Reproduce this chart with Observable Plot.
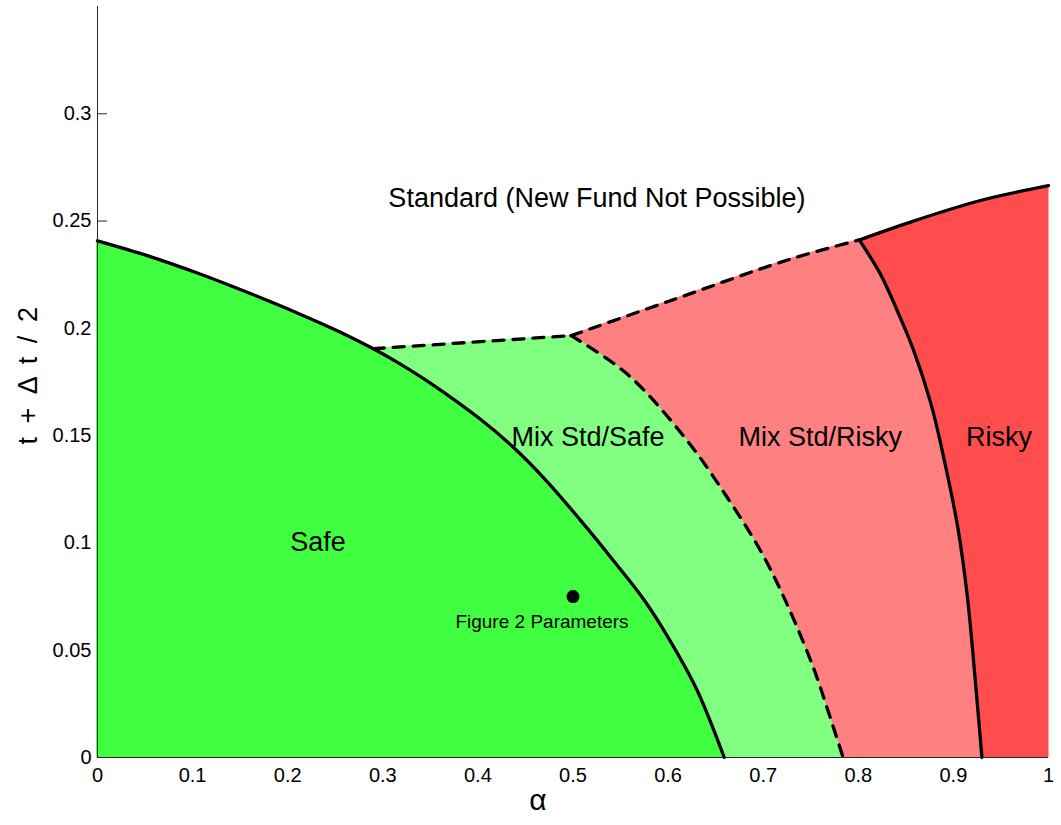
<!DOCTYPE html>
<html><head><meta charset="utf-8">
<script src="https://cdn.jsdelivr.net/npm/d3@7"></script>
<script src="https://cdn.jsdelivr.net/npm/@observablehq/plot@0.6"></script>
<style>body{margin:0;background:#fff}</style>
</head><body><div id="chart"></div>
<script>
// ---- tick values ----
const xTicks = [0, 0.1, 0.2, 0.3, 0.4, 0.5, 0.6, 0.7, 0.8, 0.9, 1];
const yTicks = [0, 0.05, 0.1, 0.15, 0.2, 0.25, 0.3];

// ---- boundary curves [alpha, t + dt/2], all ordered by increasing alpha ----
// Safe boundary (solid)
const safeBoundary = [
  [0, 0.2408], [0.053, 0.2338], [0.105, 0.2258], [0.158, 0.2167], [0.21, 0.2072],
  [0.2555, 0.1982], [0.29, 0.1905], [0.315, 0.1843], [0.35, 0.1745], [0.403, 0.1575],
  [0.437, 0.1447], [0.473, 0.1285], [0.508, 0.1105], [0.543, 0.0915], [0.575, 0.0733],
  [0.6, 0.0560], [0.63, 0.0318], [0.659, 0]
];
// Mix Std/Safe | Mix Std/Risky boundary (dashed)
const mixBoundary = [
  [0.498, 0.1966], [0.557, 0.1787], [0.62, 0.1477], [0.662, 0.1213], [0.697, 0.0965],
  [0.7234, 0.0731], [0.753, 0.0416], [0.768, 0.022], [0.784, 0]
];
// Mix Std/Risky | Risky boundary (solid)
const riskyBoundary = [
  [0.801, 0.2412], [0.823, 0.2255], [0.841, 0.2082], [0.858, 0.1900], [0.876, 0.1655],
  [0.888, 0.1435], [0.905, 0.1062], [0.9148, 0.0745], [0.9222, 0.040], [0.93, 0]
];
// Upper edge, dashed parts
const topDashedLeft = [[0.29, 0.1905], [0.498, 0.1966]];
const topDashedRight = [[0.498, 0.1966], [0.6, 0.2125], [0.7287, 0.2323], [0.801, 0.2412]];
// Upper edge, solid part
const topSolid = [[0.801, 0.2412], [0.858, 0.2500], [0.9285, 0.2596], [1, 0.2665]];

// Marked parameter point
const paramPoint = [{x: 0.5, y: 0.075, label: "Figure 2 Parameters"}];

// Region labels
const regionNames = ["Standard (New Fund Not Possible)", "Mix Std/Safe", "Mix Std/Risky", "Risky", "Safe"];
const regionX = [0.5252, 0.5157, 0.760, 0.948, 0.2319];
const regionY = [0.2604, 0.149, 0.149, 0.149, 0.1002];

// Region colours
const cSafe = "#40ff40", cMixSafe = "#80ff80", cMixRisky = "#ff8080", cRisky = "#ff4d4d";

const pts = arr => arr.map(d => ({x: d[0], y: d[1]}));
const regionLabels = regionNames.map((t, i) => ({text: t, x: regionX[i], y: regionY[i]}));
const yLabel = "t + \u0394 t / 2";

const font = "Liberation Sans, Arial, Helvetica, sans-serif";
const CR = "catmull-rom";
const area = (arr, fill, curve) => Plot.areaY(pts(arr), {x: "x", y: "y", curve, fill, stroke: fill, strokeWidth: 1});
const line = (arr, curve, dash) => Plot.line(pts(arr), {x: "x", y: "y", curve, stroke: "black", strokeWidth: 3.3, strokeDasharray: dash});

const chart = Plot.plot({
  width: 1061,
  height: 825,
  marginLeft: 97,
  marginRight: 13,
  marginTop: 6,
  marginBottom: 68,
  style: {fontFamily: font, background: "white", color: "black"},
  x: {domain: [0, 1]},
  y: {domain: [0, 0.35]},
  marks: [
    // inward y ticks (beneath fills)
    Plot.ruleY(yTicks, {y: d => d, x1: 0, x2: 0.0105, stroke: "#262626", strokeWidth: 1}),
    // filled regions, layered back to front
    area(topSolid, cRisky, CR),
    area(topDashedRight, cMixRisky, CR),
    area(riskyBoundary, cMixRisky, CR),
    area(topDashedLeft, cMixSafe, "linear"),
    area(mixBoundary, cMixSafe, CR),
    area(safeBoundary, cSafe, CR),
    // boundaries
    line(safeBoundary, CR),
    line(riskyBoundary, CR),
    line(topSolid, CR),
    line(topDashedLeft, "linear", "11,9"),
    line(topDashedRight, CR, "11,9"),
    line(mixBoundary, CR, "11,9"),
    // parameter point
    Plot.dot(paramPoint, {x: "x", y: "y", r: 6.5, fill: "black", stroke: null}),
    Plot.text(paramPoint, {x: "x", y: "y", text: "label", dx: -31, dy: 25, fontSize: 19, fill: "black"}),
    // axes
    Plot.axisX({ticks: xTicks, tickSize: 0, tickPadding: 10, fontSize: 20, label: null, tickFormat: d => String(d), fill: "black"}),
    Plot.axisY({ticks: yTicks, tickSize: 0, tickPadding: 6, fontSize: 20, label: null, tickFormat: d => String(d), fill: "black"}),
    Plot.ruleX([0], {y1: 0, y2: 0.35, stroke: "#262626", strokeWidth: 1}),
    Plot.ruleY([0], {x1: 0, x2: 1, stroke: "#262626", strokeWidth: 1}),
    // region labels
    Plot.text(regionLabels, {x: "x", y: "y", text: "text", fontSize: 27, fill: "black"}),
    // axis titles
    Plot.text([yLabel], {x: () => 0, y: () => 0.1786, dx: -69, rotate: -90, fontSize: 27, fill: "black"}),
    Plot.text(["\u03b1"], {x: () => 0.463, y: () => 0, dy: 43, fontSize: 30, fill: "black"})
  ]
});
d3.select(chart).selectAll("text").filter(function () { return this.textContent === yLabel; })
  .style("letter-spacing", "3px").style("white-space", "pre");
document.getElementById("chart").appendChild(chart);
</script>
</body></html>
